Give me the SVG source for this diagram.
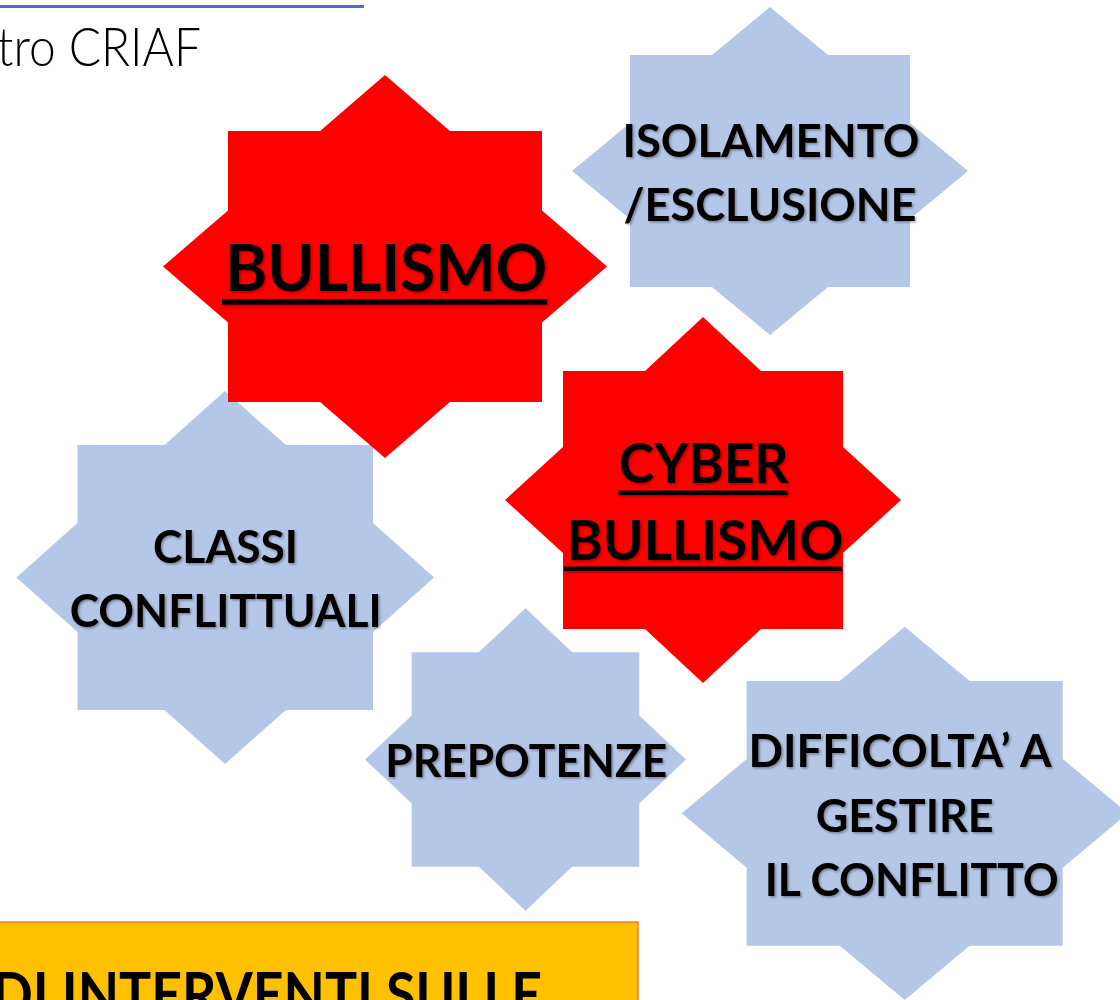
<svg xmlns="http://www.w3.org/2000/svg" width="1120" height="1000" viewBox="0 0 1120 1000">
  <style>
    .red { fill: #FF0000; }
    .blue { fill: #B4C7E7; }
    .lbl { font-family: Lato, "Open Sans", "Liberation Sans", sans-serif; font-weight: 700; fill: #000; text-anchor: middle; }
    .n { font-size: 45.5px; }
    .c { font-size: 56px; }
    .b { font-size: 65.5px; }
    .ul { fill: #000; }
  </style>
  <defs>
    <filter id="sh" x="-10%" y="-30%" width="120%" height="160%">
      <feDropShadow dx="1.5" dy="1.5" stdDeviation="1.2" flood-color="#000" flood-opacity="0.35"/>
    </filter>
  </defs>
  <rect x="0" y="0" width="1120" height="1000" fill="#FFFFFF"/>

  <g id="header">
    <rect x="0" y="5" width="364" height="3" fill="#4472C4"/>
    <text x="-3" y="65.5" font-family="Lato, 'Open Sans', 'Liberation Sans', sans-serif" font-weight="300" font-size="54" fill="#000" textLength="204" lengthAdjust="spacingAndGlyphs">tro CRIAF</text>
  </g>

  <g id="connectors"></g>

  <g id="node-classi">
    <polygon class="blue" points="225,391 286,445 373,445 373,523 434,577.5 373,632 373,710 286,710 225,764 164.5,710 77.5,710 77.5,632 16.5,577.5 77.5,523 77.5,445 164.5,445"/>
    <g filter="url(#sh)">
      <text class="lbl n" x="225.5" y="563" textLength="145" lengthAdjust="spacingAndGlyphs">CLASSI</text>
      <text class="lbl n" x="225.7" y="627" textLength="312" lengthAdjust="spacingAndGlyphs">CONFLITTUALI</text>
    </g>
  </g>

  <g id="node-bullismo">
    <polygon class="red" points="385,75 449.9,131 542,131 542,210.4 607,266.5 542,322.6 542,402 449.9,402 385,458 320.1,402 228,402 228,322.6 163,266.5 228,210.4 228,131 320.1,131"/>
    <g filter="url(#sh)">
      <text class="lbl b" x="386.2" y="291" textLength="322" lengthAdjust="spacingAndGlyphs">BULLISMO</text>
      <rect class="ul" x="222" y="299" width="325" height="5.5"/>
    </g>
  </g>

  <g id="node-isolamento">
    <polygon class="blue" points="770,7 828,55 910,55 910,123 968,171 910,219 910,287 828,287 770,335 712,287 630,287 630,219 572,171 630,123 630,55 712,55"/>
    <g filter="url(#sh)">
      <text class="lbl n" x="771" y="157" textLength="297" lengthAdjust="spacingAndGlyphs">ISOLAMENTO</text>
      <text class="lbl n" x="770" y="220.5" textLength="293" lengthAdjust="spacingAndGlyphs">/ESCLUSIONE</text>
    </g>
  </g>

  <g id="node-cyberbullismo">
    <polygon class="red" points="703,317 761,371 843,371 843,447 901,500 843,553 843,629 761,629 703,683 645,629 563,629 563,553 505,500 563,447 563,371 645,371"/>
    <g filter="url(#sh)">
      <text class="lbl c" x="703.7" y="483" textLength="170" lengthAdjust="spacingAndGlyphs">CYBER</text>
      <rect class="ul" x="618.5" y="490.5" width="169" height="4.5"/>
      <text class="lbl c" x="705" y="560" textLength="277" lengthAdjust="spacingAndGlyphs">BULLISMO</text>
      <rect class="ul" x="564" y="566.5" width="278" height="4.5"/>
    </g>
  </g>

  <g id="node-prepotenze">
    <polygon class="blue" points="525.5,608.3 572.2,652.3 639.3,652.3 639.3,715.5 686,759.5 639.3,803.5 639.3,866.7 572.2,866.7 525.5,910.7 478.8,866.7 411.7,866.7 411.7,803.5 365,759.5 411.7,715.5 411.7,652.3 478.8,652.3"/>
    <g filter="url(#sh)">
      <text class="lbl n" x="526.3" y="777.3" textLength="282" lengthAdjust="spacingAndGlyphs">PREPOTENZE</text>
    </g>
  </g>

  <g id="node-difficolta">
    <polygon class="blue" points="904.7,626.7 969.6,681 1062.7,681 1062.7,759 1127.7,813.3 1062.7,867.8 1062.7,945.7 969.6,945.7 904.7,1000 839.8,945.7 746.7,945.7 746.7,867.8 681.7,813.3 746.7,759 746.7,681 839.8,681"/>
    <g filter="url(#sh)">
      <text class="lbl n" x="900" y="767.3" textLength="303" lengthAdjust="spacingAndGlyphs">DIFFICOLTA’ A</text>
      <text class="lbl n" x="904.7" y="831.7" textLength="178" lengthAdjust="spacingAndGlyphs">GESTIRE</text>
      <text class="lbl n" x="911.7" y="895.7" textLength="294" lengthAdjust="spacingAndGlyphs">IL CONFLITTO</text>
    </g>
  </g>

  <g id="node-interventi">
    <rect x="-2" y="922" width="640" height="100" fill="#FFC000" stroke="#ED7D31" stroke-width="1.5"/>
    <text x="-8" y="1016" font-family="Lato, 'Open Sans', 'Liberation Sans', sans-serif" font-weight="700" font-size="62" fill="#000" textLength="550" lengthAdjust="spacingAndGlyphs">DI INTERVENTI SULLE</text>
  </g>
</svg>
